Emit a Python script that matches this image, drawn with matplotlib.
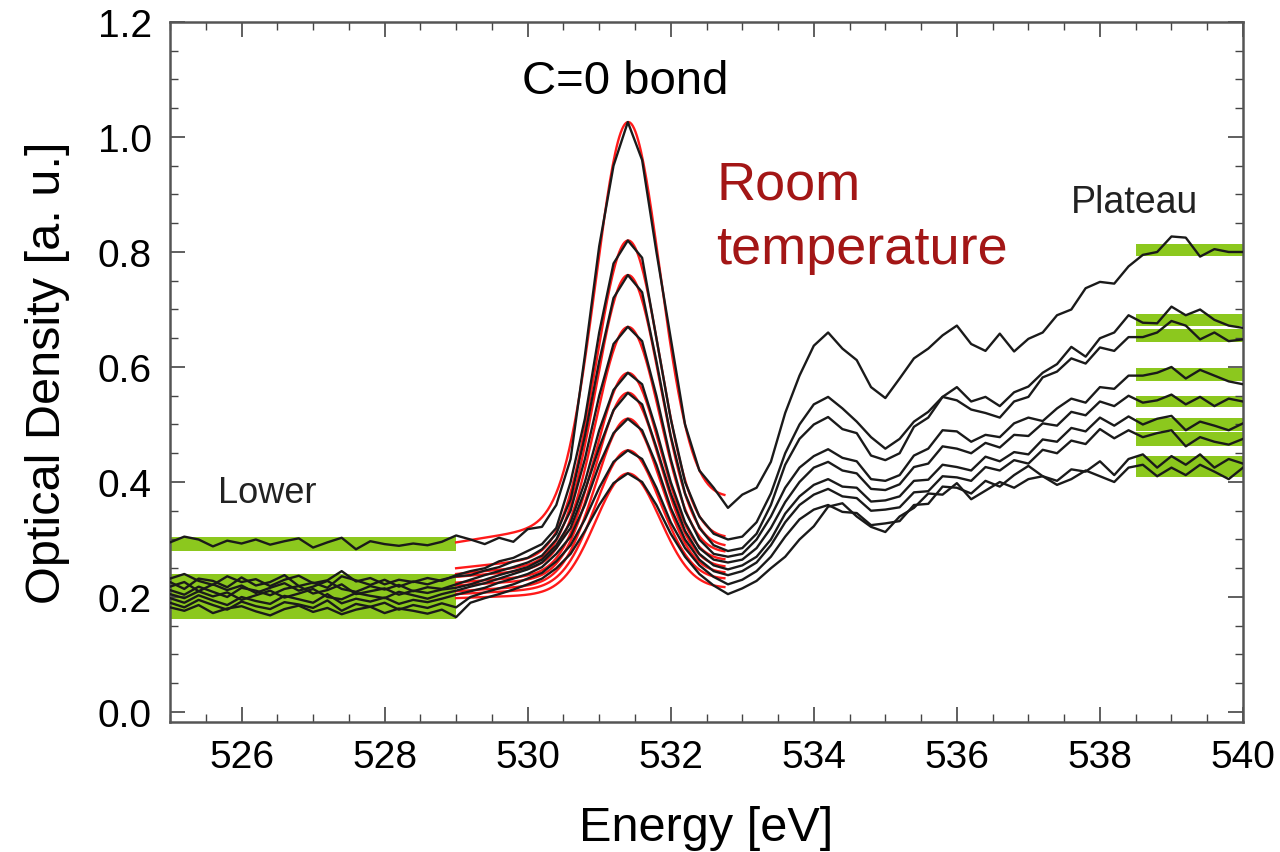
import numpy as np
import matplotlib.pyplot as plt
from matplotlib.ticker import MultipleLocator

plt.rcParams['font.family'] = ['Liberation Sans', 'DejaVu Sans']

# energy grid of the spectra (eV), 0.2 eV steps
energy = np.round(np.arange(525.0, 540.01, 0.2), 1)

# optical density of each spectrum, highest C=O peak first
od_1 = [0.295, 0.305, 0.300, 0.288, 0.298, 0.293, 0.300, 0.291, 0.297, 0.302, 0.286, 0.295, 0.303, 0.283, 0.297, 0.292, 0.289, 0.293, 0.290, 0.296,
        0.307, 0.300, 0.292, 0.303, 0.296, 0.318, 0.322, 0.360, 0.440, 0.620, 0.810, 0.950, 1.026, 0.960, 0.800, 0.650, 0.500, 0.420, 0.390, 0.355,
        0.378, 0.390, 0.435, 0.520, 0.585, 0.637, 0.660, 0.632, 0.612, 0.565, 0.546, 0.580, 0.615, 0.632, 0.655, 0.672, 0.640, 0.628, 0.658, 0.627,
        0.649, 0.660, 0.690, 0.700, 0.737, 0.748, 0.745, 0.775, 0.795, 0.800, 0.827, 0.825, 0.792, 0.805, 0.800, 0.800]
od_2 = [0.232, 0.240, 0.228, 0.221, 0.236, 0.226, 0.231, 0.219, 0.230, 0.237, 0.224, 0.229, 0.245, 0.227, 0.233, 0.222, 0.230, 0.226, 0.233, 0.228,
        0.238, 0.245, 0.250, 0.262, 0.268, 0.280, 0.292, 0.320, 0.400, 0.510, 0.660, 0.780, 0.820, 0.790, 0.650, 0.510, 0.400, 0.340, 0.310, 0.300,
        0.305, 0.330, 0.380, 0.450, 0.500, 0.535, 0.548, 0.528, 0.505, 0.478, 0.458, 0.475, 0.505, 0.522, 0.548, 0.565, 0.540, 0.548, 0.532, 0.556,
        0.566, 0.590, 0.605, 0.635, 0.618, 0.650, 0.660, 0.690, 0.677, 0.676, 0.705, 0.690, 0.700, 0.682, 0.672, 0.668]
od_3 = [0.226, 0.214, 0.232, 0.228, 0.217, 0.234, 0.220, 0.226, 0.238, 0.219, 0.225, 0.216, 0.236, 0.229, 0.221, 0.230, 0.218, 0.227, 0.222, 0.230,
        0.236, 0.238, 0.246, 0.252, 0.262, 0.268, 0.283, 0.310, 0.370, 0.480, 0.610, 0.720, 0.760, 0.730, 0.610, 0.480, 0.380, 0.320, 0.290, 0.280,
        0.285, 0.310, 0.360, 0.430, 0.475, 0.500, 0.513, 0.492, 0.485, 0.446, 0.438, 0.450, 0.496, 0.512, 0.548, 0.542, 0.526, 0.520, 0.512, 0.540,
        0.548, 0.582, 0.592, 0.615, 0.606, 0.634, 0.628, 0.652, 0.652, 0.660, 0.680, 0.672, 0.648, 0.660, 0.645, 0.648]
od_4 = [0.218, 0.226, 0.210, 0.222, 0.212, 0.220, 0.207, 0.216, 0.224, 0.211, 0.218, 0.228, 0.214, 0.209, 0.219, 0.213, 0.221, 0.210, 0.217, 0.214,
        0.222, 0.230, 0.238, 0.245, 0.252, 0.260, 0.272, 0.300, 0.350, 0.440, 0.550, 0.640, 0.670, 0.645, 0.550, 0.440, 0.350, 0.300, 0.275, 0.270,
        0.275, 0.300, 0.340, 0.390, 0.425, 0.445, 0.457, 0.442, 0.436, 0.405, 0.402, 0.412, 0.446, 0.458, 0.490, 0.488, 0.470, 0.482, 0.478, 0.502,
        0.512, 0.506, 0.528, 0.545, 0.538, 0.565, 0.562, 0.585, 0.585, 0.590, 0.600, 0.580, 0.595, 0.585, 0.575, 0.570]
od_5 = [0.212, 0.204, 0.218, 0.209, 0.200, 0.216, 0.211, 0.203, 0.214, 0.219, 0.206, 0.212, 0.222, 0.205, 0.210, 0.215, 0.204, 0.211, 0.207, 0.213,
        0.216, 0.222, 0.230, 0.238, 0.245, 0.252, 0.265, 0.290, 0.330, 0.400, 0.490, 0.560, 0.590, 0.570, 0.490, 0.400, 0.330, 0.285, 0.265, 0.260,
        0.265, 0.285, 0.320, 0.365, 0.400, 0.425, 0.435, 0.420, 0.415, 0.388, 0.386, 0.396, 0.426, 0.432, 0.462, 0.458, 0.450, 0.468, 0.460, 0.482,
        0.480, 0.502, 0.498, 0.522, 0.516, 0.540, 0.532, 0.550, 0.538, 0.542, 0.552, 0.535, 0.548, 0.532, 0.545, 0.540]
od_6 = [0.205, 0.198, 0.210, 0.201, 0.208, 0.195, 0.203, 0.211, 0.199, 0.206, 0.214, 0.200, 0.196, 0.207, 0.202, 0.198, 0.209, 0.203, 0.197, 0.205,
        0.211, 0.218, 0.224, 0.232, 0.240, 0.248, 0.260, 0.285, 0.320, 0.385, 0.460, 0.525, 0.555, 0.535, 0.460, 0.380, 0.315, 0.275, 0.255, 0.248,
        0.255, 0.270, 0.300, 0.345, 0.375, 0.395, 0.405, 0.392, 0.390, 0.366, 0.368, 0.375, 0.402, 0.404, 0.430, 0.426, 0.420, 0.444, 0.436, 0.452,
        0.448, 0.474, 0.470, 0.494, 0.488, 0.512, 0.498, 0.514, 0.500, 0.510, 0.515, 0.490, 0.505, 0.498, 0.490, 0.502]
od_7 = [0.198, 0.190, 0.203, 0.194, 0.186, 0.200, 0.193, 0.188, 0.202, 0.196, 0.190, 0.205, 0.189, 0.197, 0.192, 0.199, 0.188, 0.195, 0.191, 0.197,
        0.204, 0.210, 0.216, 0.225, 0.232, 0.240, 0.252, 0.275, 0.305, 0.360, 0.430, 0.485, 0.510, 0.490, 0.430, 0.355, 0.300, 0.265, 0.245, 0.238,
        0.245, 0.260, 0.290, 0.330, 0.360, 0.378, 0.388, 0.375, 0.372, 0.350, 0.352, 0.356, 0.382, 0.384, 0.410, 0.408, 0.402, 0.426, 0.420, 0.438,
        0.432, 0.456, 0.450, 0.472, 0.466, 0.492, 0.476, 0.490, 0.478, 0.485, 0.490, 0.462, 0.478, 0.470, 0.465, 0.475]
od_8 = [0.190, 0.182, 0.195, 0.186, 0.178, 0.192, 0.184, 0.179, 0.191, 0.187, 0.181, 0.194, 0.176, 0.188, 0.183, 0.190, 0.178, 0.186, 0.181, 0.189,
        0.182, 0.200, 0.208, 0.215, 0.222, 0.232, 0.242, 0.262, 0.290, 0.335, 0.390, 0.435, 0.455, 0.440, 0.390, 0.330, 0.285, 0.255, 0.235, 0.222,
        0.230, 0.245, 0.270, 0.305, 0.335, 0.352, 0.360, 0.348, 0.346, 0.325, 0.328, 0.332, 0.360, 0.362, 0.392, 0.390, 0.380, 0.402, 0.392, 0.412,
        0.428, 0.410, 0.402, 0.422, 0.418, 0.436, 0.412, 0.440, 0.448, 0.425, 0.445, 0.430, 0.448, 0.425, 0.440, 0.432]
od_9 = [0.182, 0.176, 0.186, 0.172, 0.180, 0.184, 0.175, 0.168, 0.179, 0.185, 0.174, 0.181, 0.170, 0.178, 0.183, 0.172, 0.180, 0.176, 0.171, 0.178,
        0.165, 0.190, 0.198, 0.205, 0.213, 0.222, 0.232, 0.250, 0.275, 0.315, 0.360, 0.398, 0.415, 0.400, 0.360, 0.310, 0.270, 0.240, 0.220, 0.205,
        0.215, 0.228, 0.250, 0.270, 0.300, 0.323, 0.357, 0.363, 0.340, 0.322, 0.313, 0.340, 0.355, 0.380, 0.378, 0.398, 0.370, 0.385, 0.400, 0.390,
        0.405, 0.410, 0.395, 0.405, 0.420, 0.410, 0.400, 0.425, 0.430, 0.410, 0.425, 0.412, 0.430, 0.418, 0.405, 0.425]
spectra = [od_1, od_2, od_3, od_4, od_5, od_6, od_7, od_8, od_9]

# Gaussian fits of the C=O peak on a linear background (529.0 - 532.75 eV)
fit_center = 531.4
fit_sigma = 0.45
fit_bg_start = [0.295, 0.250, 0.240, 0.235, 0.225, 0.220, 0.210, 0.205, 0.198]
fit_bg_end = [0.370, 0.300, 0.285, 0.275, 0.262, 0.250, 0.240, 0.230, 0.215]
fit_amp = [0.683, 0.538, 0.491, 0.409, 0.341, 0.316, 0.281, 0.234, 0.206]

# mean +/- sd bands of the pre-edge ("Lower") and post-edge ("Plateau") levels
lower_mean = [0.292, 0.230, 0.226, 0.217, 0.211, 0.203, 0.195, 0.186, 0.177]
lower_sd = [0.012, 0.010, 0.011, 0.011, 0.011, 0.011, 0.011, 0.012, 0.015]
plateau_mean = [0.803, 0.682, 0.655, 0.587, 0.540, 0.500, 0.475, 0.435, 0.420]
plateau_sd = [0.0105, 0.0105, 0.0115, 0.0105, 0.010, 0.0105, 0.012, 0.010, 0.011]

band_green = '#8cc81e'

fig = plt.figure(figsize=(12.8, 8.53), dpi=100)
ax = fig.add_axes([170 / 1280, 1 - 723 / 853, 1073 / 1280, 700 / 853])

for m, s in zip(lower_mean, lower_sd):
    ax.fill_between([525.0, 529.0], m - s, m + s, color=band_green, lw=0, zorder=1)
for m, s in zip(plateau_mean, plateau_sd):
    ax.fill_between([538.5, 540.0], m - s, m + s, color=band_green, lw=0, zorder=1)

e_fit = np.linspace(529.0, 532.75, 200)
for b0, b1, a in zip(fit_bg_start, fit_bg_end, fit_amp):
    bg = b0 + (b1 - b0) * (e_fit - 529.0) / 3.75
    ax.plot(e_fit, bg + a * np.exp(-(e_fit - fit_center) ** 2 / (2 * fit_sigma ** 2)),
            color='#ff1a1a', lw=1.7, zorder=2)

for od in spectra:
    ax.plot(energy, od, color='#1a1a1a', lw=1.7, zorder=3)

ax.text(531.37, 1.097, 'C=0 bond', fontsize=34, ha='center', va='center')
ax.text(532.64, 0.918, 'Room', fontsize=39, color='#a31616', ha='left', va='center')
ax.text(532.64, 0.805, 'temperature', fontsize=39, color='#a31616', ha='left', va='center')
ax.text(525.67, 0.381, 'Lower', fontsize=26, color='#222222', ha='left', va='center')
ax.text(537.6, 0.887, 'Plateau', fontsize=27, color='#222222', ha='left', va='center')

ax.set_xlim(525, 540)
ax.set_ylim(-0.0174, 1.2)
ax.xaxis.set_minor_locator(MultipleLocator(0.5))
ax.yaxis.set_minor_locator(MultipleLocator(0.05))
ax.set_xticks(np.arange(526, 541, 2))
ax.set_yticks(np.arange(0, 1.21, 0.2))
ax.yaxis.set_major_formatter(plt.FormatStrFormatter('%.1f'))
ax.tick_params(which='both', direction='in', top=True, right=True, colors='#444444', labelcolor='black')
ax.tick_params(which='major', length=11, width=1.2, labelsize=28)
ax.tick_params(which='minor', length=6, width=1.0)
ax.tick_params(axis='y', which='major', pad=13)
ax.tick_params(axis='x', which='major', pad=12)
for sp in ax.spines.values():
    sp.set_color('#555555')
    sp.set_linewidth(1.8)

ax.set_xlabel('Energy [eV]', fontsize=35, labelpad=22)
ax.set_ylabel('Optical Density [a. u.]', fontsize=35, labelpad=20)

fig.savefig('out.png', dpi=100)
